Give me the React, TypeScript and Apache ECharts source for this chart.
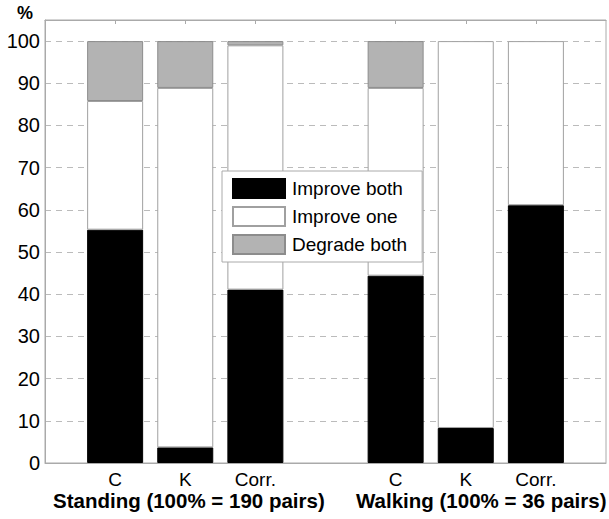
import React, { useEffect, useRef } from "react";
import * as echarts from "echarts";

const categories = ["", "C", "K", "Corr.", "", "C", "K", "Corr.", ""];
const groupLabels = ["Standing (100% = 190 pairs)", "Walking (100% = 36 pairs)"];
const seriesNames = ["Improve both", "Improve one", "Degrade both"];
// "-" marks the empty slots (axis ends and gap between groups)
const improveBoth = ["-", 55.3, 3.7, 41.1, "-", 44.4, 8.3, 61.1, "-"];
const improveOne = ["-", 30.5, 85.2, 57.9, "-", 44.5, 91.7, 38.9, "-"];
const degradeBoth = ["-", 14.2, 11.1, 1.0, "-", 11.1, 0, 0, "-"];
const yTicks = [0, 10, 20, 30, 40, 50, 60, 70, 80, 90, 100];

const FONT = "Liberation Sans, Arial, Helvetica, sans-serif";

export default function App() {
  const ref = useRef<HTMLDivElement>(null);
  useEffect(() => {
    if (!ref.current) return;
    const chart = echarts.init(ref.current, undefined, { renderer: "svg" });
    const colors = ["#000000", "#ffffff", "#b3b3b3"];
    const borders = ["#000000", "#a0a0a0", "#8c8c8c"];
    const vals = [improveBoth, improveOne, degradeBoth];
    const hasCat = (idx: number, value: string) => value !== "";
    chart.setOption({
      animation: false,
      grid: {
        left: 45,
        top: 20,
        right: 1,
        bottom: 56,
        show: true,
        borderColor: "#aaaaaa",
        borderWidth: 1,
        backgroundColor: "#ffffff",
      },
      xAxis: [
        {
          type: "category",
          data: categories,
          boundaryGap: false,
          position: "bottom",
          axisLine: { show: true, lineStyle: { color: "#aaaaaa" } },
          axisTick: { show: false },
          splitLine: { show: false },
          axisLabel: {
            interval: 0,
            color: "#000",
            fontSize: 19,
            lineHeight: 18,
            fontFamily: FONT,
            margin: 7,
          },
        },
        {
          type: "category",
          data: categories,
          boundaryGap: false,
          position: "top",
          axisLine: { show: true, lineStyle: { color: "#aaaaaa" } },
          axisTick: {
            show: true,
            inside: true,
            length: 4,
            interval: hasCat,
            lineStyle: { color: "#aaaaaa" },
          },
          splitLine: { show: false },
          axisLabel: { show: false },
        },
      ],
      yAxis: {
        type: "value",
        min: 0,
        max: 105,
        interval: 10,
        axisLine: { show: true, lineStyle: { color: "#aaaaaa" } },
        axisTick: { show: false },
        axisLabel: {
          customValues: yTicks,
          color: "#000",
          fontSize: 20,
          fontFamily: FONT,
          margin: 5,
        },
        splitLine: {
          show: true,
          lineStyle: { color: "#bbbbbb", type: [6, 5], width: 1 },
        },
      },
      legend: {
        show: true,
        orient: "vertical",
        left: 222,
        top: 171,
        data: seriesNames,
        itemWidth: 52,
        itemHeight: 19,
        itemGap: 7,
        padding: [7, 15, 7, 10],
        backgroundColor: "#ffffff",
        borderColor: "#aaaaaa",
        borderWidth: 1,
        borderRadius: 0,
        icon: "rect",
        selectedMode: false,
        textStyle: { color: "#000", fontSize: 19, fontFamily: FONT, padding: [0, 0, 0, 2] },
      },
      series: seriesNames.map((name, si) => ({
        name,
        type: "bar",
        stack: "total",
        barWidth: 56,
        xAxisIndex: 0,
        data: vals[si].map((v) => (v === 0 ? "-" : v)),
        itemStyle: {
          color: colors[si],
          borderColor: borders[si],
          borderWidth: 1,
        },
        emphasis: { disabled: true },
      })),
      graphic: [
        {
          type: "text",
          left: 17,
          top: 4,
          style: { text: "%", fontSize: 18, fontWeight: "bold", fontFamily: FONT, fill: "#000" },
        },
        {
          type: "text",
          left: 53,
          top: 489,
          style: { text: groupLabels[0], fontSize: 20.5, lineHeight: 22, fontWeight: "bold", fontFamily: FONT, fill: "#000" },
        },
        {
          type: "text",
          left: 356,
          top: 489,
          style: { text: groupLabels[1], fontSize: 20.5, lineHeight: 22, fontWeight: "bold", fontFamily: FONT, fill: "#000" },
        },
      ],
    });
    return () => chart.dispose();
  }, []);
  return <div ref={ref} style={{ width: 609, height: 519, position: "absolute", left: 0, top: 0 }} />;
}
